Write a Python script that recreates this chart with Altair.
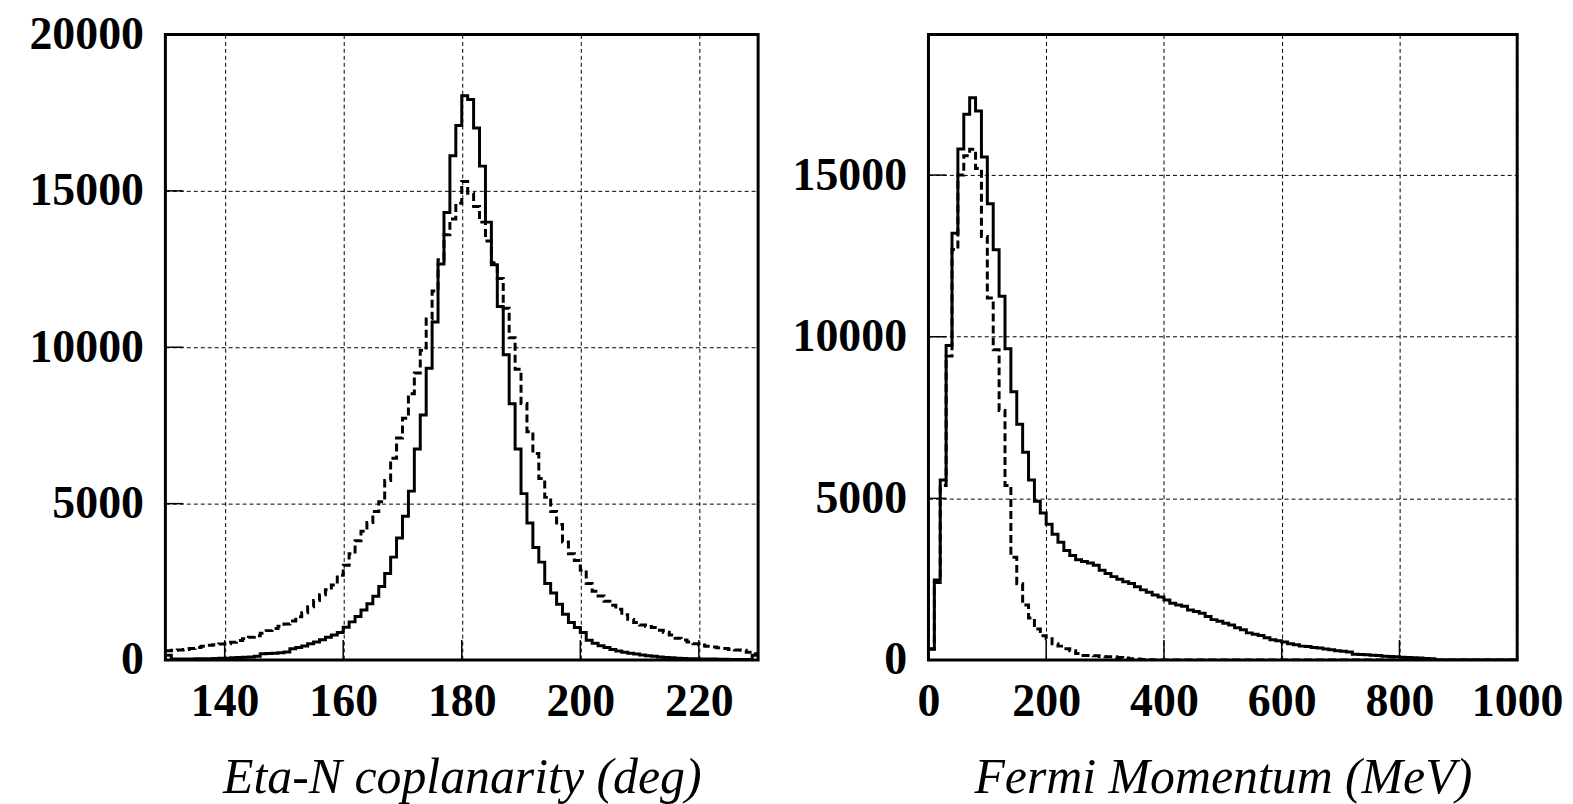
import altair as alt
import pandas as pd

# ---------------- data ----------------
# Left panel: Eta-N coplanarity, 1-degree bins from 130 to 230
copl_start = 130
copl_width = 1
copl_solid = [
    150, 30, 30, 35, 35, 40, 40, 45, 50, 55,
    60, 70, 80, 90, 100, 120, 200, 210, 220, 230,
    260, 360, 400, 450, 520, 580, 650, 730, 800, 880,
    1050, 1220, 1390, 1600, 1800, 2040, 2350, 2770, 3290, 3900,
    4600, 5400, 6750, 7830, 9330, 10810, 12660, 14310, 16120, 17090,
    18040, 17920, 17010, 15790, 14000, 12640, 11300, 9760, 8190, 6750,
    5320, 4380, 3600, 3130, 2450, 2140, 1780, 1460, 1200, 1040,
    880, 630, 540, 460, 400, 340, 290, 250, 220, 190,
    160, 140, 120, 100, 80, 70, 60, 50, 45, 40,
    35, 30, 30, 25, 25, 20, 20, 20, 20, 150,
]
copl_dashed = [
    300, 310, 320, 340, 365, 400, 440, 470, 490, 510,
    520, 570, 626, 680, 730, 780, 860, 940, 1010, 1080,
    1150, 1250, 1380, 1510, 1700, 1900, 2090, 2250, 2400, 2710,
    3030, 3400, 3810, 4120, 4400, 4750, 5060, 5740, 6450, 7100,
    7730, 8510, 9180, 9900, 10900, 11800, 12800, 13600, 14100, 14600,
    15300, 14920, 14500, 14000, 13400, 12700, 12200, 11250, 10300, 9300,
    8200, 7300, 6600, 5800, 5200, 4750, 4330, 3770, 3400, 3180,
    2870, 2450, 2200, 2050, 1880, 1750, 1620, 1450, 1300, 1200,
    1120, 1070, 1040, 950, 890, 800, 700, 640, 580, 520,
    480, 440, 420, 390, 365, 340, 320, 310, 250, 200,
]
copl_xticks = [140, 160, 180, 200, 220]
copl_yticks = [0, 5000, 10000, 15000, 20000]

# Right panel: Fermi momentum, 10 MeV bins from 0 to 1000
fermi_start = 0
fermi_width = 10
fermi_solid = [
    350, 2475, 5570, 9730, 13200, 15810, 16880, 17390, 16980, 15560,
    14110, 12690, 11250, 9630, 8300, 7290, 6430, 5570, 4910, 4550,
    4200, 3890, 3640, 3390, 3230, 3100, 3050, 3000, 2930, 2780,
    2680, 2580, 2500, 2420, 2370, 2270, 2170, 2100, 2010, 1950,
    1860, 1760, 1700, 1660, 1550, 1500, 1450, 1350, 1250, 1200,
    1140, 1080, 1000, 940, 840, 800, 760, 690, 630, 600,
    560, 500, 470, 430, 420, 390, 370, 340, 320, 290,
    270, 250, 180, 170, 160, 150, 140, 120, 110, 100,
    90, 80, 70, 60, 50, 40, 0, 0, 0, 0,
    0, 0, 0, 0, 0, 0, 0, 0, 0, 0,
]
fermi_dashed = [
    330, 2400, 5400, 9400, 12700, 15000, 15600, 15800, 15200, 13100,
    11200, 9600, 7720, 5400, 3180, 2360, 1700, 1300, 960, 750,
    660, 500, 430, 350, 290, 200, 140, 140, 130, 110,
    100, 100, 80, 60, 40, 30, 20, 10, 0, 0,
    0, 0, 0, 0, 0, 0, 0, 0, 0, 0,
    0, 0, 0, 0, 0, 0, 0, 0, 0, 0,
    0, 0, 0, 0, 0, 0, 0, 0, 0, 0,
    0, 0, 0, 0, 0, 0, 0, 0, 0, 0,
    0, 0, 0, 0, 0, 0, 0, 0, 0, 0,
    0, 0, 0, 0, 0, 0, 0, 0, 0, 0,
]
fermi_xticks = [0, 200, 400, 600, 800, 1000]
fermi_yticks = [0, 5000, 10000, 15000]

# ---------------- styling ----------------
SERIF = "Liberation Serif"
LABEL_SIZE = 46
TITLE_SIZE = 50
PLOT_H = 628
LINE_W = 3
DASH = [8, 4]
GRID_DASH = [4, 3]


def step_frame(start, width, vals):
    xs = [start + i * width for i in range(len(vals))] + [start + len(vals) * width]
    ys = list(vals) + [vals[-1]]
    return pd.DataFrame({"x": xs, "y": ys})


def panel(start, width, solid, dashed, xdom, ydom, xticks, yticks, title, plot_w):
    sdf = step_frame(start, width, solid)
    ddf = step_frame(start, width, dashed)

    xaxis = alt.Axis(
        values=xticks, format="d", grid=True, gridDash=GRID_DASH, gridColor="black",
        gridWidth=1, gridOpacity=1, ticks=False, domain=False,
        labelFont=SERIF, labelFontWeight="bold", labelFontSize=LABEL_SIZE,
        labelColor="black", labelPadding=20, labelFlush=False, labelOverlap=False,
        title=title, titleFont=SERIF, titleFontStyle="italic",
        titleFontWeight="normal", titleFontSize=TITLE_SIZE, titleColor="black",
        titlePadding=28,
    )
    yaxis = alt.Axis(
        values=yticks, format="d", grid=True, gridDash=GRID_DASH, gridColor="black",
        gridWidth=1, gridOpacity=1, ticks=False, domain=False,
        labelFont=SERIF, labelFontWeight="bold", labelFontSize=LABEL_SIZE,
        labelColor="black", labelPadding=22, labelFlush=False, labelOverlap=False,
        title=None,
    )
    xs = alt.Scale(domain=xdom, nice=False, zero=False)
    ys = alt.Scale(domain=ydom, nice=False, zero=True)

    x_enc = alt.X("x:Q", scale=xs, axis=xaxis)
    y_enc = alt.Y("y:Q", scale=ys, axis=yaxis)

    solid_line = alt.Chart(sdf).mark_line(
        interpolate="step-after", color="black", strokeWidth=LINE_W, clip=True
    ).encode(x=x_enc, y=y_enc)
    dashed_line = alt.Chart(ddf).mark_line(
        interpolate="step-after", color="black", strokeWidth=LINE_W,
        strokeDash=DASH, clip=True
    ).encode(x=x_enc, y=y_enc)

    xt = pd.DataFrame({"x": xticks})
    yt = pd.DataFrame({"y": yticks})
    xtick_rules = alt.Chart(xt).mark_rule(color="black", strokeWidth=1.5).encode(
        x=x_enc, y=alt.value(PLOT_H), y2=alt.value(PLOT_H - 20)
    )
    ytick_rules = alt.Chart(yt).mark_rule(color="black", strokeWidth=1.5).encode(
        y=y_enc, x=alt.value(0), x2=alt.value(18)
    )
    return alt.layer(xtick_rules, ytick_rules, dashed_line, solid_line).properties(
        width=plot_w, height=PLOT_H
    )


left = panel(copl_start, copl_width, copl_solid, copl_dashed, [130, 230], [0, 20000],
             copl_xticks, copl_yticks, "Eta-N coplanarity (deg)", 595)
right = panel(fermi_start, fermi_width, fermi_solid, fermi_dashed, [0, 1000], [0, 19350],
              fermi_xticks, fermi_yticks, "Fermi Momentum (MeV)", 591)

chart = alt.hconcat(left, right, spacing=30).properties(
    padding={"left": 19, "top": 0, "right": 0, "bottom": 4},
    background="white",
).configure_view(stroke="black", strokeWidth=3)

chart.save("out.html", embed_options={"renderer": "svg", "actions": False})
